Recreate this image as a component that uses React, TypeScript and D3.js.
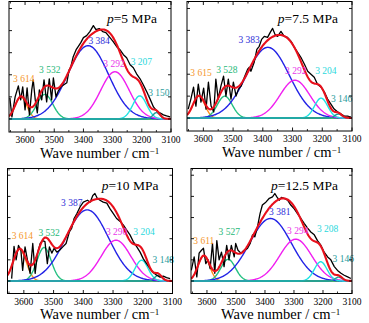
import React from "react";
import * as d3 from "d3";

const W = 369;
const H = 323;
const FONT = "'Liberation Serif', 'Times New Roman', serif";

const xDomain = [3655, 3100];
const yDomain = [-0.13, 1.17];
const xTicks = [3600, 3500, 3400, 3300, 3200, 3100];
const xMinorTicks = [3650, 3550, 3450, 3350, 3250, 3150];
const yTicks = [0, 0.22, 0.44, 0.66, 0.88, 1.1];

const pressures = ["5", "7.5", "10", "12.5"];
const peakColors = ["#ff8c1a", "#22bf80", "#2323e6", "#f01ef0", "#1ee3e3", "#1f9a9a"];
const labelColors = ["#f5962a", "#27b878", "#2f2fd8", "#e936e9", "#2ad8dc", "#2a9c9c"];
const fitColor = "#e8101c";
const baseColor = "#2a9090";

// Peak parameters (center / cm-1, height, width sigma)
const centers1 = [3614, 3532, 3384, 3292, 3207, 3150];
const heights1 = [0.22, 0.245, 0.73, 0.47, 0.23, 0.063];
const sigmas1 = [20, 27, 70, 49, 24, 12];
const centers2 = [3615, 3528, 3383, 3292, 3204, 3146];
const heights2 = [0.22, 0.22, 0.71, 0.38, 0.2, 0.04];
const sigmas2 = [20, 25, 72, 50, 22, 12];
const centers3 = [3614, 3532, 3387, 3290, 3204, 3148];
const heights3 = [0.33, 0.348, 0.74, 0.424, 0.216, 0.06];
const sigmas3 = [22, 24, 72, 50, 22, 12];
const centers4 = [3611, 3527, 3381, 3294, 3208, 3146];
const heights4 = [0.26, 0.226, 0.65, 0.435, 0.2, 0.04];
const sigmas4 = [20, 25, 72, 55, 22, 12];

// Peak label anchors (wave number at text start, value at baseline)
const labelWn1 = [3641, 3552, 3383, 3332, 3238, 3178];
const labelVal1 = [0.37, 0.46, 0.75, 0.52, 0.54, 0.23];
const labelWn2 = [3644, 3557, 3482, 3325, 3224, 3171];
const labelVal2 = [0.42, 0.45, 0.75, 0.44, 0.44, 0.16];
const labelWn3 = [3641, 3551, 3475, 3324, 3232, 3167];
const labelVal3 = [0.44, 0.47, 0.785, 0.483, 0.483, 0.19];
const labelWn4 = [3647, 3560, 3386, 3324, 3221, 3167];
const labelVal4 = [0.39, 0.483, 0.69, 0.486, 0.507, 0.202];

// Measured spectra
const specWn1 = [3652,3645,3634,3623,3615,3608,3600,3593,3585,3577,3572,3565,3558,3551,3543,3535,3526,3517,3509,3503,3494,3486,3477,3467,3457,3449,3443,3435,3425,3418,3409,3400,3389,3378,3366,3357,3346,3334,3323,3309,3298,3286,3275,3263,3252,3240,3229,3218,3206,3195,3183,3172,3160,3149,3138,3126,3115,3103];
const specVal1 = [0.21,0.02,0.22,0.33,0.19,0.32,0.09,0.31,0.04,0.29,0.39,0.19,0.06,0.29,0.19,0.39,0.17,0.40,0.19,0.41,0.22,0.28,0.32,0.34,0.36,0.49,0.52,0.62,0.69,0.72,0.76,0.81,0.83,0.87,0.93,0.89,0.90,0.87,0.86,0.81,0.77,0.72,0.69,0.64,0.61,0.54,0.51,0.45,0.40,0.34,0.27,0.20,0.12,0.08,0.06,0.04,0.03,0.02];
const specWn2 = [3651,3642,3633,3625,3617,3608,3599,3591,3583,3574,3565,3558,3550,3541,3532,3524,3516,3507,3499,3490,3482,3473,3462,3451,3445,3440,3429,3420,3412,3404,3395,3384,3375,3367,3359,3350,3339,3328,3317,3305,3294,3283,3272,3260,3249,3238,3227,3216,3204,3193,3182,3171,3160,3148,3137,3126,3115,3103];
const specVal2 = [0.09,0.19,0.31,0.12,0.34,0.16,0.30,0.09,0.36,0.12,0.06,0.39,0.19,0.32,0.42,0.22,0.39,0.19,0.36,0.22,0.29,0.32,0.41,0.49,0.51,0.47,0.56,0.69,0.72,0.79,0.82,0.81,0.86,0.90,0.84,0.82,0.87,0.82,0.81,0.77,0.71,0.66,0.61,0.54,0.47,0.44,0.41,0.34,0.31,0.26,0.19,0.14,0.09,0.06,0.04,0.02,0.02,0.01];
const specWn3 = [3641,3633,3626,3618,3610,3604,3596,3588,3579,3570,3562,3554,3545,3537,3529,3521,3514,3506,3498,3489,3480,3469,3458,3447,3439,3431,3422,3411,3400,3386,3377,3368,3361,3353,3344,3333,3321,3310,3299,3288,3276,3265,3254,3243,3232,3220,3209,3198,3187,3176,3164,3153,3142,3131,3120,3108];
const specVal3 = [0.025,0.36,0.22,0.37,0.32,0.11,0.355,0.22,0.08,0.39,0.08,0.29,0.39,0.42,0.41,0.18,0.355,0.29,0.34,0.30,0.32,0.355,0.39,0.51,0.55,0.65,0.70,0.77,0.82,0.84,0.82,0.89,0.91,0.86,0.84,0.82,0.81,0.75,0.70,0.65,0.62,0.58,0.53,0.48,0.41,0.355,0.30,0.23,0.18,0.13,0.085,0.06,0.04,0.05,0.036,0.025];
const specWn4 = [3654,3644,3635,3627,3619,3612,3604,3596,3589,3581,3573,3566,3558,3550,3541,3532,3524,3516,3506,3501,3493,3483,3472,3460,3451,3443,3435,3426,3417,3409,3397,3385,3374,3366,3359,3351,3343,3334,3322,3311,3299,3288,3276,3265,3253,3242,3230,3219,3207,3196,3184,3173,3161,3150,3138,3127,3115,3104];
const specVal4 = [0.11,0.25,0.043,0.29,0.32,0.34,0.18,0.22,0.13,0.39,0.08,0.42,0.22,0.30,0.15,0.37,0.22,0.37,0.25,0.39,0.32,0.29,0.32,0.34,0.39,0.48,0.46,0.56,0.70,0.79,0.82,0.86,0.875,0.91,0.875,0.84,0.87,0.86,0.84,0.79,0.75,0.70,0.65,0.60,0.55,0.51,0.48,0.42,0.37,0.30,0.25,0.22,0.15,0.11,0.08,0.06,0.043,0.026];

const panels = [
  { p: pressures[0], c: centers1, h: heights1, s: sigmas1, lw: labelWn1, lv: labelVal1, sw: specWn1, sv: specVal1,
    f: { l: 9, r: 171, t: 1.5, b: 132 }, tx: 40 },
  { p: pressures[1], c: centers2, h: heights2, s: sigmas2, lw: labelWn2, lv: labelVal2, sw: specWn2, sv: specVal2,
    f: { l: 187, r: 352, t: 1.5, b: 131 }, tx: 222 },
  { p: pressures[2], c: centers3, h: heights3, s: sigmas3, lw: labelWn3, lv: labelVal3, sw: specWn3, sv: specVal3,
    f: { l: 7.5, r: 172.5, t: 168.5, b: 293.5 }, tx: 40 },
  { p: pressures[3], c: centers4, h: heights4, s: sigmas4, lw: labelWn4, lv: labelVal4, sw: specWn4, sv: specVal4,
    f: { l: 191, r: 352, t: 168.5, b: 293.5 }, tx: 221 },
];

function Panel({ d, idx }: { d: any; idx: number }) {
  const { f } = d;
  const x = d3.scaleLinear().domain(xDomain).range([f.l, f.r]);
  const y = d3.scaleLinear().domain(yDomain).range([f.b, f.t]);
  const grid = d3.range(xDomain[0], xDomain[1] - 1, -2);
  const gauss = (i: number, w: number) =>
    d.h[i] * Math.exp(-((w - d.c[i]) ** 2) / (2 * d.s[i] ** 2));
  const line = d3
    .line<[number, number]>()
    .x((p) => x(p[0]))
    .y((p) => y(p[1]));
  const comps = d.c.map((_: number, i: number) =>
    line(grid.map((w) => [w, gauss(i, w)] as [number, number]))
  );
  const fit = line(
    grid.map((w) => [w, d.c.reduce((acc: number, _: number, i: number) => acc + gauss(i, w), 0)] as [number, number])
  );
  const n = Math.min(d.sw.length, d.sv.length);
  const spec = line(d3.range(n).map((i) => [d.sw[i], d.sv[i]] as [number, number]));
  const clipId = `clip${idx}`;
  return (
    <g>
      <defs>
        <clipPath id={clipId}>
          <rect x={f.l} y={f.t} width={f.r - f.l} height={f.b - f.t} />
        </clipPath>
      </defs>
      <g clipPath={`url(#${clipId})`}>
        <line x1={f.l} x2={f.r} y1={y(0)} y2={y(0)} stroke={baseColor} strokeWidth={2} />
        {comps.map((p: string, i: number) => (
          <path key={i} d={p} fill="none" stroke={peakColors[i]} strokeWidth={1.4} />
        ))}
        <path d={spec} fill="none" stroke="#000" strokeWidth={1.3} strokeLinejoin="round" />
        <path d={fit} fill="none" stroke={fitColor} strokeWidth={2.1} />
      </g>
      {d.c.map((c: number, i: number) => (
        <text key={i} x={x(d.lw[i])} y={y(d.lv[i])} fill={labelColors[i]} fontSize={9.5} fontFamily={FONT}>
          {`3 ${String(c).slice(1)}`}
        </text>
      ))}
      <text x={f.r - 14} y={f.t + 21} textAnchor="end" fontSize={13.5} fontFamily={FONT} fill="#000">
        <tspan fontStyle="italic">p</tspan>={d.p} MPa
      </text>
      <rect x={f.l} y={f.t} width={f.r - f.l} height={f.b - f.t} fill="none" stroke="#000" strokeWidth={1} />
      {xTicks.map((t) => (
        <g key={t}>
          <line x1={x(t)} x2={x(t)} y1={f.b} y2={f.b - 3.5} stroke="#000" strokeWidth={0.9} />
          <line x1={x(t)} x2={x(t)} y1={f.t} y2={f.t + 3.5} stroke="#000" strokeWidth={0.9} />
          <text x={x(t)} y={f.b + 11} textAnchor="middle" fontSize={9.5} fontFamily={FONT} fill="#000">
            {t}
          </text>
        </g>
      ))}
      {xMinorTicks.map((t) => (
        <g key={t}>
          <line x1={x(t)} x2={x(t)} y1={f.b} y2={f.b - 2} stroke="#000" strokeWidth={0.8} />
          <line x1={x(t)} x2={x(t)} y1={f.t} y2={f.t + 2} stroke="#000" strokeWidth={0.8} />
        </g>
      ))}
      {yTicks.map((t) => (
        <g key={t}>
          <line x1={f.l} x2={f.l + 3} y1={y(t)} y2={y(t)} stroke="#000" strokeWidth={0.9} />
          <line x1={f.r} x2={f.r - 3} y1={y(t)} y2={y(t)} stroke="#000" strokeWidth={0.9} />
        </g>
      ))}
      <text x={d.tx} y={f.b + 25.5} fontSize={14.5} fontFamily={FONT} fill="#000">
        Wave number / cm
        <tspan dy={-4} fontSize={9}>−1</tspan>
      </text>
    </g>
  );
}

export default function App() {
  return (
    <svg width={W} height={H} style={{ display: "block", position: "absolute", left: 0, top: 0, background: "#fff" }}>
      <rect x={0} y={0} width={W} height={H} fill="#fff" />
      {panels.map((d, i) => (
        <Panel key={i} d={d} idx={i} />
      ))}
    </svg>
  );
}
